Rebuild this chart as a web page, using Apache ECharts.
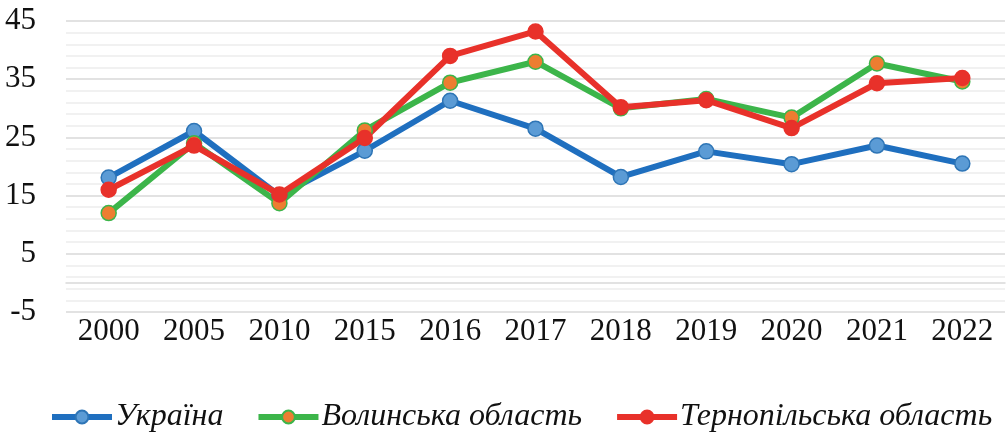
<!DOCTYPE html>
<html>
<head>
<meta charset="utf-8">
<script src="https://cdn.jsdelivr.net/npm/echarts@6/dist/echarts.min.js"></script>
<style>
  html, body { margin: 0; padding: 0; background: #fff; }
  #chart { width: 1006px; height: 437px; }
</style>
</head>
<body>
<div id="chart"></div>
<script>
const years = ["2000", "2005", "2010", "2015", "2016", "2017", "2018", "2019", "2020", "2021", "2022"];
const ukraine = [18.1, 26.1, 15.0, 22.7, 31.3, 26.5, 18.2, 22.6, 20.4, 23.6, 20.5];
const volyn = [12.0, 24.0, 13.7, 26.2, 34.4, 38.0, 30.0, 31.6, 28.4, 37.7, 34.6];
const ternopil = [16.0, 23.6, 15.2, 24.9, 39.0, 43.2, 30.2, 31.4, 26.6, 34.3, 35.2];

const serif = "'Liberation Serif', 'Times New Roman', serif";
const chart = echarts.init(document.getElementById("chart"));

function line(name, data, lineColor, fill, border) {
  return {
    name: name,
    type: "line",
    data: data,
    symbol: "circle",
    symbolSize: 15,
    lineStyle: { color: lineColor, width: 6 },
    itemStyle: { color: fill, borderColor: border, borderWidth: 1.5 },
    animation: false
  };
}

chart.setOption({
  grid: { left: 66, right: 1, top: 21, bottom: 125 },
  legend: {
    left: 44,
    top: 396,
    itemWidth: 60,
    itemHeight: 16,
    itemGap: 32,
    lineStyle: { width: 6 },
    textStyle: { fontFamily: serif, fontStyle: "italic", fontSize: 32, color: "#111", padding: [0, 0, 0, -2] },
    data: ["Україна", "Волинська область", "Тернопільська область"]
  },
  xAxis: {
    type: "category",
    data: years,
    axisLine: { lineStyle: { color: "#d9d9d9", width: 1.5 } },
    axisTick: { show: false },
    axisLabel: { fontFamily: serif, fontSize: 31, color: "#111", margin: 4 }
  },
  yAxis: {
    type: "value",
    min: -5,
    max: 45,
    interval: 10,
    axisLine: { show: false },
    axisTick: { show: false },
    axisLabel: { fontFamily: serif, fontSize: 31, color: "#111", margin: 30 },
    splitLine: { lineStyle: { color: "#d9d9d9", width: 1.5 } },
    minorTick: { show: false, splitNumber: 5 },
    minorSplitLine: { show: true, lineStyle: { color: "#ededed", width: 1.5 } }
  },
  series: [
    line("Україна", ukraine, "#1f6fbf", "#5b9bd5", "#2e75b6"),
    line("Волинська область", volyn, "#3cb54a", "#ed7d31", "#3cb54a"),
    line("Тернопільська область", ternopil, "#e8312a", "#e8312a", "#e8312a")
  ]
});
</script>
</body>
</html>
